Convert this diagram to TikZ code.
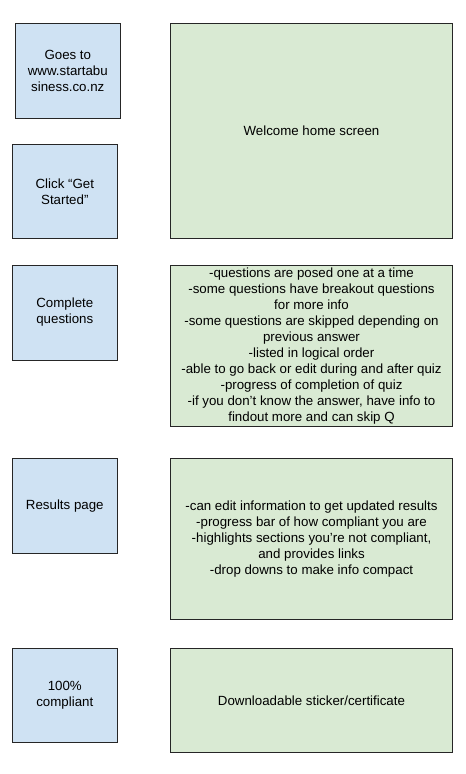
\documentclass[tikz,border=0pt]{standalone}
\usepackage{fontspec}
\setmainfont{Liberation Sans}
\definecolor{stepblue}{HTML}{CFE2F3}
\definecolor{notegreen}{HTML}{D9EAD3}
\begin{document}
\begin{tikzpicture}[x=1bp, y=-1bp,
		every node/.style={font=\fontsize{13.3bp}{16bp}\selectfont, align=center, inner sep=0pt, line width=0.8bp},
		stepbox/.style={draw=black!85, fill=stepblue, minimum width=105bp, minimum height=95bp},
		notebox/.style={draw=black!85, fill=notegreen, minimum width=282bp}]
		\useasboundingbox (0,0) rectangle (466,774);

		\node (visit) [stepbox] at (67.8,70.8) {Goes to\\www.startabu\\siness.co.nz};
		\node (start) [stepbox, minimum height=94bp] at (64.8,191.3) {Click “Get\\Started”};
		\node (welcome) [notebox, minimum height=215bp] at (311.5,130.8) {Welcome home screen};

		\node (complete) [stepbox] at (64.8,312.5) {Complete\\questions};
		\node (quiz) [notebox, minimum height=161.7bp] at (311.5,345.8) {-questions are posed one at a time\\-some questions have breakout questions\\for more info\\-some questions are skipped depending on\\previous answer\\-listed in logical order\\-able to go back or edit during and after quiz\\-progress of completion of quiz\\-if you don’t know the answer, have info to\\findout more and can skip Q};

		\node (results) [stepbox] at (64.8,505.8) {Results page};
		\node (report) [notebox, minimum height=161bp] at (311.5,538.8) {-can edit information to get updated results\\-progress bar of how compliant you are\\-highlights sections you’re not compliant,\\and provides links\\-drop downs to make info compact};

		\node (compliant) [stepbox, minimum height=94bp] at (64.8,695.3) {100\%\\compliant};
		\node (sticker) [notebox, minimum height=104bp] at (311.5,700.3) {Downloadable sticker/certificate};
	\end{tikzpicture}
\end{document}
